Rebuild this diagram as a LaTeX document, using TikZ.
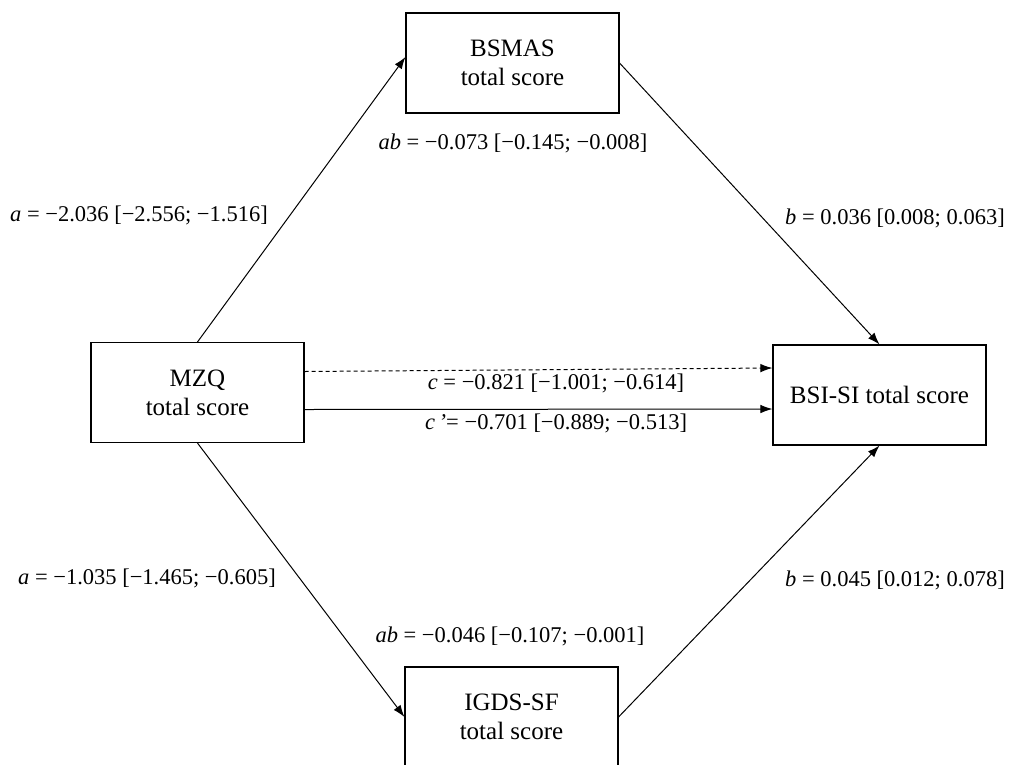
\documentclass[tikz,border=0pt]{standalone}
\usepackage{fontspec}
\setmainfont{Liberation Serif}
\usetikzlibrary{arrows.meta}
\begin{document}
\begin{tikzpicture}[x=1pt,y=-1pt,
  boxnode/.style={draw,line width=1.1pt,minimum width=213pt,minimum height=100pt,inner sep=0pt,align=center,font=\fontsize{25}{29}\selectfont},
  lbl/.style={font=\fontsize{22.5}{26}\selectfont,inner sep=0pt},
  conn/.style={line width=1pt,-{Latex[length=12pt,width=8.5pt]}}]
\useasboundingbox[fill=white] (0,0) rectangle (1022,764);
\node[boxnode] (bsmas) at (512.5,63) {BSMAS\\total score};
\node[boxnode] (mzq) at (197.5,392.5) {MZQ\\total score};
\node[boxnode] (bsi) at (879.5,395) {BSI-SI total score};
\node[boxnode] (igds) at (511.5,717) {IGDS-SF\\total score};
\draw[conn] (mzq.north) -- ([yshift=6pt]bsmas.west);
\draw[conn] (bsmas.east) -- (bsi.north);
\draw[conn] (mzq.south) -- (igds.west);
\draw[conn] (igds.east) -- (bsi.south);
\draw[conn,dashed,dash pattern=on 4pt off 3pt] ([yshift=21pt]mzq.east) -- ([yshift=27pt]bsi.west);
\draw[conn] ([yshift=-17pt]mzq.east) -- ([yshift=-14pt]bsi.west);
\node[lbl,anchor=west] (la1) at (10,215) {\textit{a} = −2.036 [−2.556; −1.516]};
\node[lbl] (lab1) at (513,143) {\textit{ab} = −0.073 [−0.145; −0.008]};
\node[lbl,anchor=west] (lb1) at (785,218) {\textit{b} = 0.036 [0.008; 0.063]};
\node[lbl] (lc) at (556,383) {\textit{c} = −0.821 [−1.001; −0.614]};
\node[lbl] (lcp) at (556,423) {\textit{c\,’}= −0.701 [−0.889; −0.513]};
\node[lbl,anchor=west] (la2) at (18,578) {\textit{a} = −1.035 [−1.465; −0.605]};
\node[lbl] (lab2) at (510,636) {\textit{ab} = −0.046 [−0.107; −0.001]};
\node[lbl,anchor=west] (lb2) at (785,580) {\textit{b} = 0.045 [0.012; 0.078]};
\end{tikzpicture}
\end{document}
